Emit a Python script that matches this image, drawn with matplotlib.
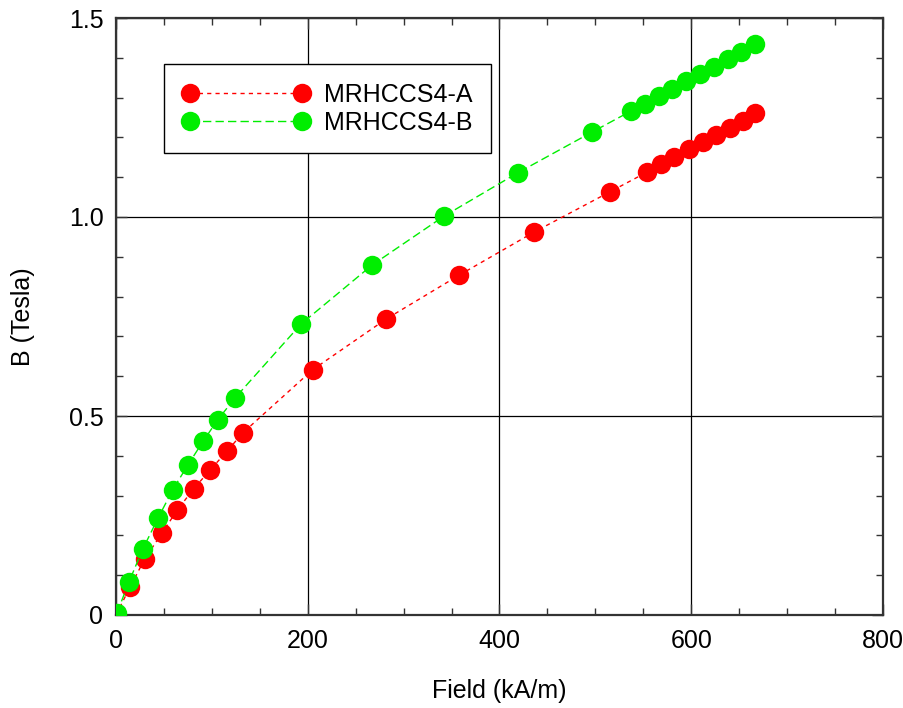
import matplotlib
matplotlib.use("Agg")
import matplotlib.pyplot as plt
from matplotlib.ticker import MultipleLocator

plt.rcParams['font.family'] = ['Liberation Sans', 'DejaVu Sans']

field_a = [0, 14.6, 30, 48, 64, 81, 98, 116, 132, 205, 282, 358, 436, 515,
           554, 568, 582, 598, 612, 626, 640, 654, 667]
b_a = [0.0, 0.070, 0.141, 0.206, 0.264, 0.317, 0.364, 0.412, 0.457, 0.616, 0.744,
       0.854, 0.962, 1.063, 1.113, 1.133, 1.151, 1.171, 1.188, 1.206, 1.224, 1.241, 1.261]

field_b = [1, 13.5, 28, 44, 59, 75, 91, 106, 124, 193, 267, 342, 419, 497,
           537, 552, 566, 580, 595, 609, 624, 638, 652, 667]
b_b = [0.005, 0.083, 0.166, 0.244, 0.314, 0.377, 0.437, 0.490, 0.545, 0.731, 0.879,
       1.002, 1.111, 1.214, 1.266, 1.284, 1.304, 1.322, 1.342, 1.359, 1.377, 1.397,
       1.415, 1.435]

labels = ['MRHCCS4-A', 'MRHCCS4-B']
xticks = [0, 200, 400, 600, 800]
yticks = [0, 0.5, 1.0, 1.5]
ytick_labels = ['0', '0.5', '1.0', '1.5']

fig = plt.figure(figsize=(9.04, 7.08), dpi=100)
ax = fig.add_axes([116/904, 1-615/708, (883-116)/904, (615-18)/708])

ax.plot(field_a, b_a, color='#ff0000', linestyle=(0, (3, 3)), linewidth=1.0,
        marker='o', markersize=14, markeredgewidth=0, label=labels[0], zorder=3)
ax.plot(field_b, b_b, color='#00ee00', linestyle=(0, (6, 3)), linewidth=1.0,
        marker='o', markersize=14, markeredgewidth=0, label=labels[1], zorder=4)

ax.set_xlim(0, 800)
ax.set_ylim(0, 1.5)
ax.set_xticks(xticks)
ax.set_xticklabels([str(t) for t in xticks])
ax.set_yticks(yticks)
ax.set_yticklabels(ytick_labels)
ax.xaxis.set_minor_locator(MultipleLocator(50))
ax.yaxis.set_minor_locator(MultipleLocator(0.1))
ax.tick_params(which='both', direction='in', top=True, right=True, labelsize=18,
               color='#333333')
ax.tick_params(which='major', length=8, width=1)
ax.tick_params(which='minor', length=5, width=1)
ax.tick_params(axis='x', pad=10)
ax.tick_params(axis='y', pad=9)
ax.grid(True, which='major', color='black', linewidth=0.9)
for s in ax.spines.values():
    s.set_linewidth(1.6)
    s.set_color('#333333')

ax.set_xlabel('Field (kA/m)', fontsize=18, labelpad=19)
ax.set_ylabel('B (Tesla)', fontsize=18, labelpad=24)

leg = ax.legend(loc='upper left', bbox_to_anchor=((164-116)/767, (615-64)/597),
                borderaxespad=0, fontsize=18, numpoints=2, handlelength=5.05,
                handletextpad=0.6, labelspacing=0.15, borderpad=0.75,
                fancybox=False, framealpha=1, edgecolor='black')
leg.get_frame().set_linewidth(1.0)

fig.savefig('out.png', dpi=100)
